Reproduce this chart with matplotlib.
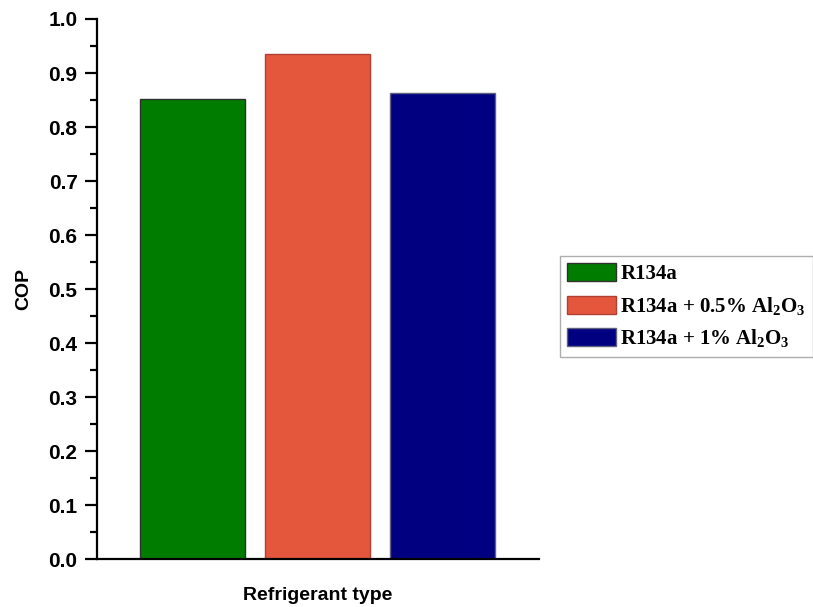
import matplotlib
matplotlib.use("Agg")
import matplotlib.pyplot as plt
from matplotlib.ticker import MultipleLocator

categories = ["R134a", "R134a + 0.5% Al$_2$O$_3$", "R134a + 1% Al$_2$O$_3$"]
cop_values = [0.852, 0.935, 0.863]
colors = ["#007d00", "#e5573d", "#000080"]
edge_colors = ["#303030", "#b04030", "#606080"]

plt.rcParams['mathtext.fontset'] = 'custom'
plt.rcParams['mathtext.rm'] = 'Liberation Serif:bold'
plt.rcParams['mathtext.it'] = 'Liberation Serif:bold'
plt.rcParams['mathtext.bf'] = 'Liberation Serif:bold'

fig = plt.figure(figsize=(8.13, 6.07), dpi=100)
ax = fig.add_axes([0.1193, 0.079, 0.5437, 0.8897])

for i, (v, c, ec, lab) in enumerate(zip(cop_values, colors, edge_colors, categories)):
    ax.bar(i, v, width=0.84, color=c, edgecolor=ec, linewidth=1.0, label=lab)

ax.set_xlim(-0.764, 2.772)
ax.set_ylim(0, 1.0)
ax.yaxis.set_major_locator(MultipleLocator(0.1))
ax.yaxis.set_minor_locator(MultipleLocator(0.05))
ax.set_xticks([])
for s in ["top", "right"]:
    ax.spines[s].set_visible(False)
for s in ["left", "bottom"]:
    ax.spines[s].set_linewidth(1.6)
ax.tick_params(axis='y', which='major', length=9, width=1.6, direction='out', pad=5)
ax.tick_params(axis='y', which='minor', length=5, width=1.6, direction='out')
ax.yaxis.set_major_formatter(matplotlib.ticker.FormatStrFormatter('%.1f'))
for t in ax.get_yticklabels():
    t.set_fontfamily('Liberation Sans')
    t.set_fontweight('bold')
    t.set_fontsize(15)

ax.set_ylabel("COP", fontfamily='Liberation Sans', fontweight='bold', fontsize=14, labelpad=12)
ax.set_xlabel("Refrigerant type", fontfamily='Liberation Sans', fontweight='bold', fontsize=14, labelpad=20)

leg = fig.legend(loc='upper left', bbox_to_anchor=(560/813, 1 - 256/607),
                 prop={'family': 'Liberation Serif', 'weight': 'bold', 'size': 15},
                 frameon=True, fancybox=False, edgecolor='#999999',
                 handlelength=2.35, handleheight=0.95, handletextpad=0.2,
                 borderpad=0.35, labelspacing=0.5, borderaxespad=0)
leg.get_frame().set_linewidth(1.0)

fig.savefig("out.png", dpi=100)
